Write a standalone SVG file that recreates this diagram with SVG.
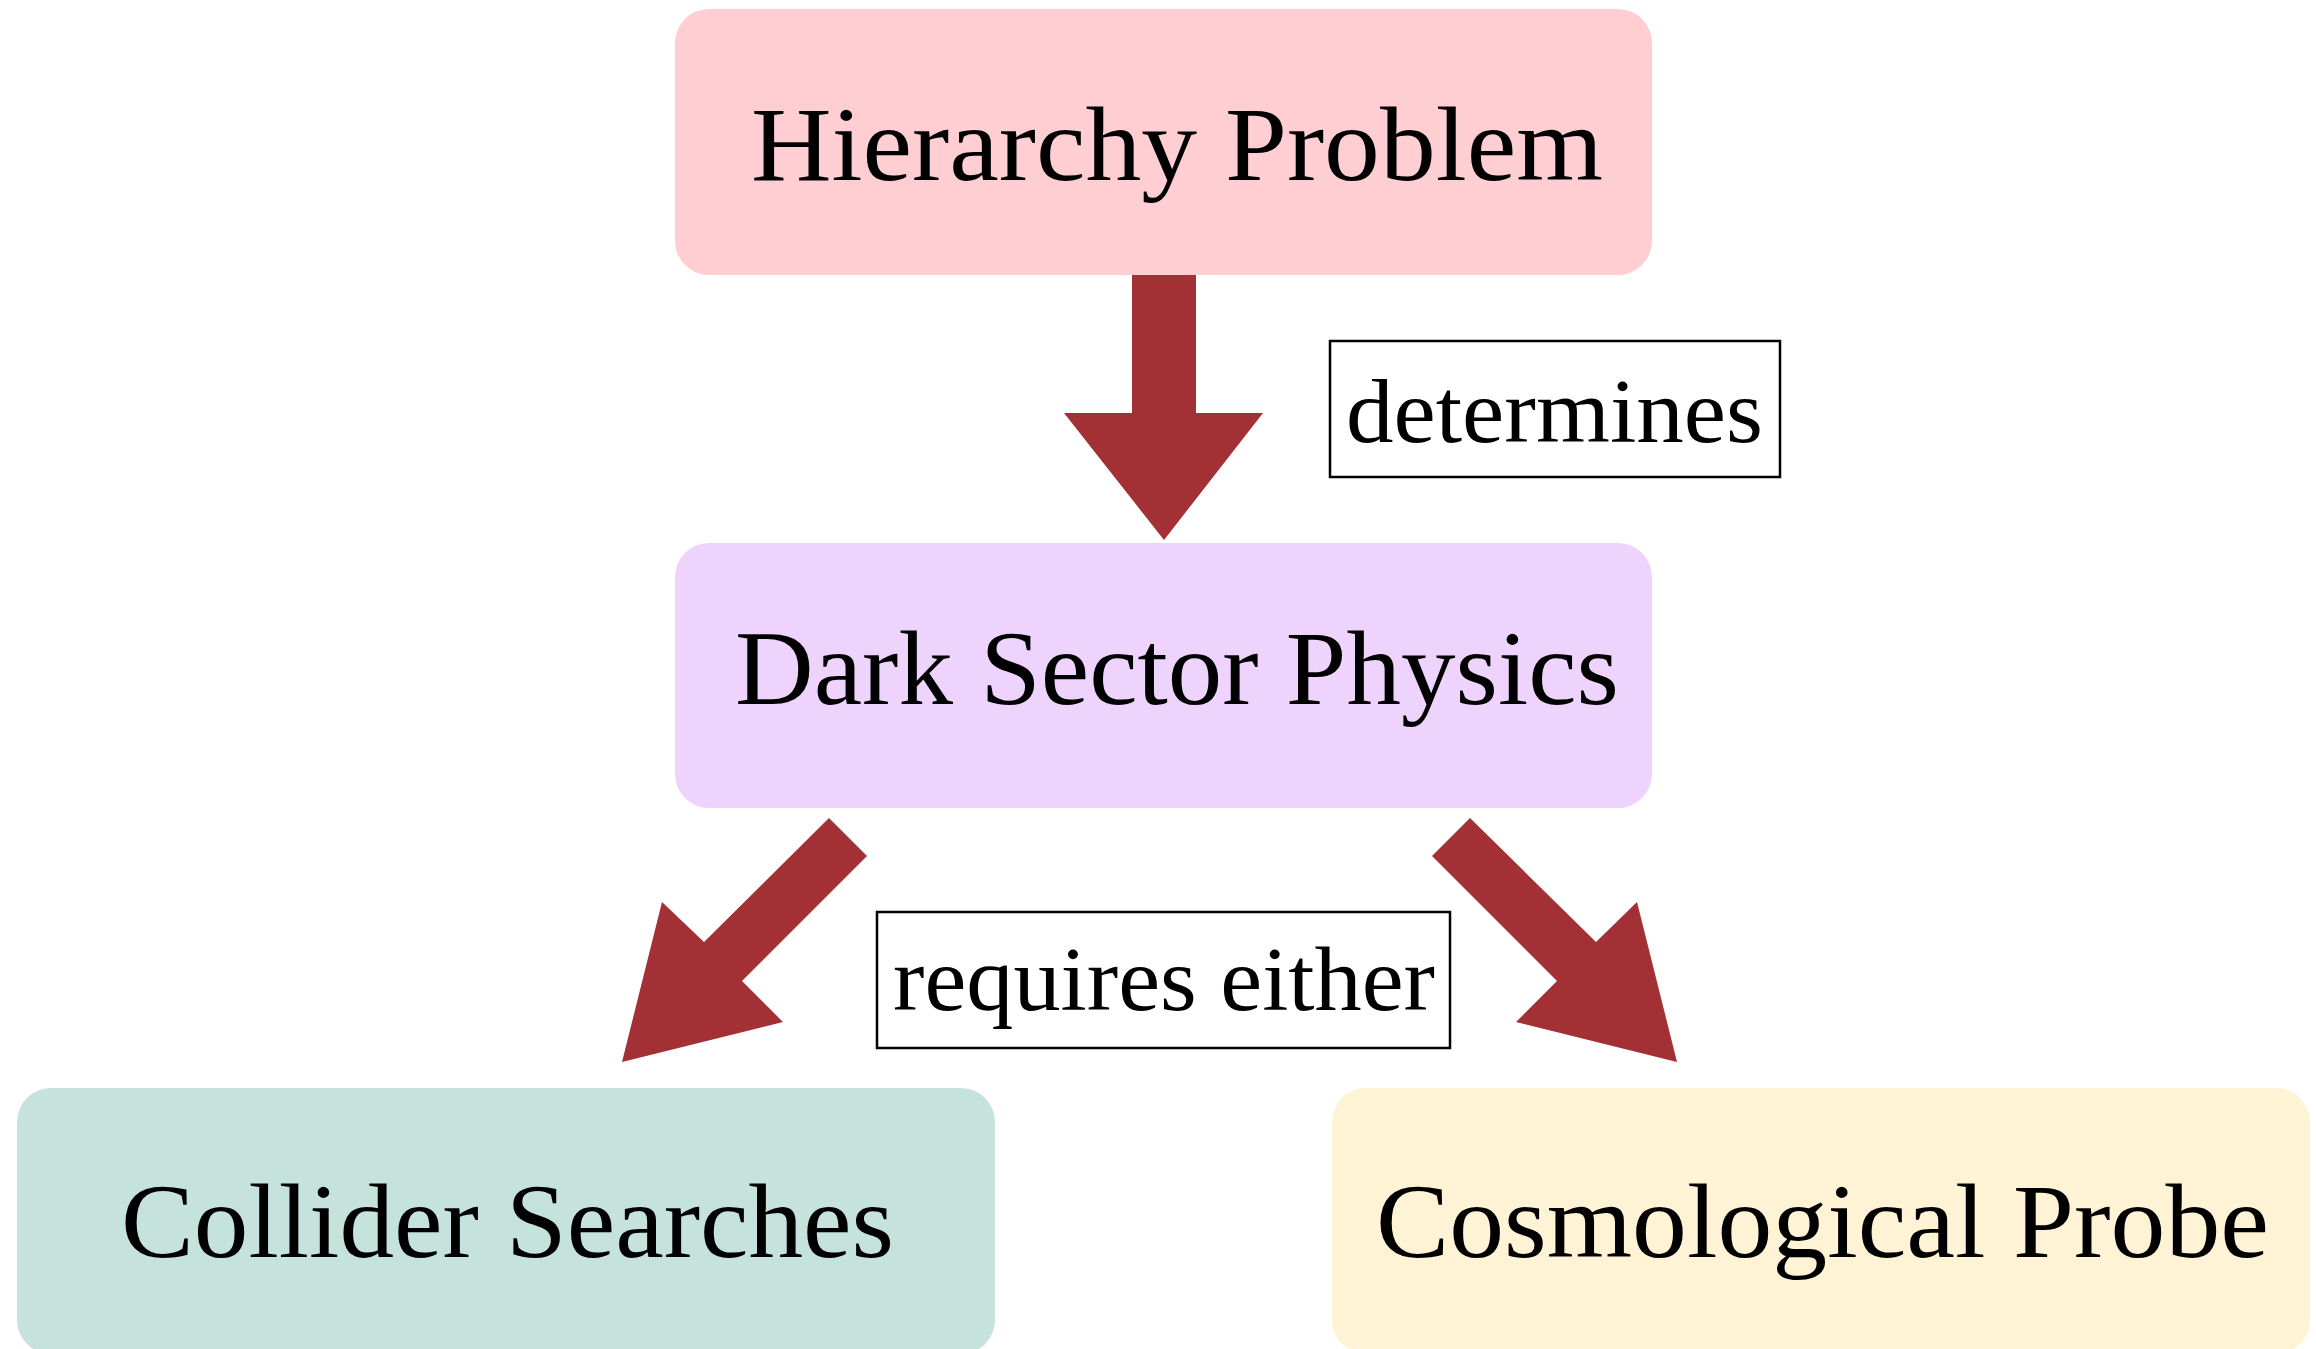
<svg xmlns="http://www.w3.org/2000/svg" width="2316" height="1349" viewBox="0 0 2316 1349">
  <style>
    .node { stroke: none; }
    .node-text { font-family: "Liberation Serif", "DejaVu Serif", serif; font-size: 106px; fill: #000000; }
    .label-box { fill: #ffffff; stroke: #000000; stroke-width: 2.5; }
    .label-text { font-family: "Liberation Serif", "DejaVu Serif", serif; font-size: 90px; fill: #000000; }
    .arrow { fill: #A33035; stroke: none; }
  </style>
  <rect width="2316" height="1349" fill="#ffffff"/>

  <!-- connectors: block arrows and their labels -->
  <g id="connectors">
    <polygon class="arrow" points="1132,273 1196,273 1196,413 1263,413 1164,540 1064,413 1132,413"/>
    <polygon class="arrow" points="829,818 867,856 742,981 783,1022 622,1062 662,902 704,942"/>
    <polygon class="arrow" points="1470,818 1432,856 1557,981 1516,1022 1677,1062 1637,902 1596,942"/>
    <g id="label-determines">
      <rect class="label-box" x="1330" y="341" width="450" height="136"/>
      <text class="label-text" x="1346" y="442" textLength="417" lengthAdjust="spacingAndGlyphs">determines</text>
    </g>
    <g id="label-requires">
      <rect class="label-box" x="877" y="912" width="573" height="136"/>
      <text class="label-text" x="893" y="1010" textLength="542" lengthAdjust="spacingAndGlyphs">requires either</text>
    </g>
  </g>

  <g id="node-hierarchy">
    <rect class="node" x="675" y="9" width="977" height="266" rx="34" ry="34" fill="#FFCED2"/>
    <text class="node-text" x="751" y="180" textLength="852" lengthAdjust="spacingAndGlyphs">Hierarchy Problem</text>
  </g>

  <g id="node-dark-sector">
    <rect class="node" x="675" y="543" width="977" height="265" rx="34" ry="34" fill="#EED3FD"/>
    <text class="node-text" x="735" y="704" textLength="884" lengthAdjust="spacingAndGlyphs">Dark Sector Physics</text>
  </g>

  <g id="node-collider">
    <rect class="node" x="17" y="1088" width="978" height="266" rx="34" ry="34" fill="#C6E2DC"/>
    <text class="node-text" x="121" y="1257" textLength="773" lengthAdjust="spacingAndGlyphs">Collider Searches</text>
  </g>

  <g id="node-cosmological">
    <rect class="node" x="1332" y="1088" width="978" height="266" rx="34" ry="34" fill="#FFF3D6"/>
    <text class="node-text" x="1376" y="1257" textLength="893" lengthAdjust="spacingAndGlyphs">Cosmological Probe</text>
  </g>
</svg>
